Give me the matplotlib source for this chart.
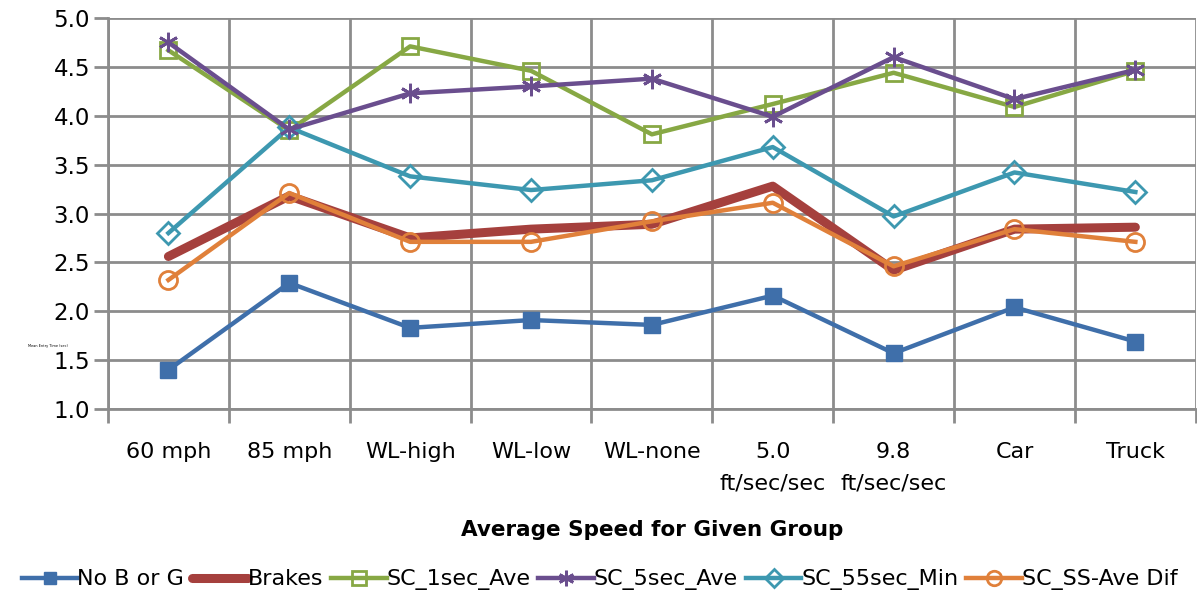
import numpy as np
import matplotlib
matplotlib.use('agg')
import matplotlib.pyplot as plt
from matplotlib.ticker import MultipleLocator, FixedLocator

categories = ['60 mph', '85 mph', 'WL-high', 'WL-low', 'WL-none',
              '5.0\nft/sec/sec', '9.8\nft/sec/sec', 'Car', 'Truck']

no_b_or_g = [1.40, 2.29, 1.83, 1.91, 1.86, 2.16, 1.57, 2.04, 1.69]
brakes = [2.56, 3.18, 2.75, 2.84, 2.89, 3.28, 2.42, 2.84, 2.86]
sc_1sec_ave = [4.67, 3.85, 4.71, 4.46, 3.81, 4.12, 4.44, 4.09, 4.46]
sc_5sec_ave = [4.75, 3.86, 4.23, 4.30, 4.38, 3.99, 4.60, 4.17, 4.47]
sc_55sec_min = [2.80, 3.88, 3.38, 3.24, 3.34, 3.68, 2.97, 3.42, 3.22]
sc_ss_ave_dif = [2.32, 3.21, 2.71, 2.71, 2.92, 3.11, 2.46, 2.84, 2.71]

plt.rcParams['font.family'] = ['DejaVu Sans']

fig = plt.figure(figsize=(11.97, 6.01), dpi=100)
ax = fig.add_axes([0.0902, 0.3195, 0.9088, 0.6505])

x = np.arange(len(categories))

ax.plot(x, no_b_or_g, color='#3F6FAA', lw=3.2, marker='s', ms=11,
        mfc='#3F6FAA', mec='#3F6FAA', label='No B or G', zorder=3)
ax.plot(x, brakes, color='#A5403D', lw=6.5, solid_capstyle='round',
        label='Brakes', zorder=3)
ax.plot(x, sc_1sec_ave, color='#87A844', lw=3.2, marker='s', ms=12,
        mfc='none', mec='#87A844', mew=2, label='SC_1sec_Ave', zorder=3)
ax.plot(x, sc_5sec_ave, color='#6A4E8E', lw=3.2, marker=(6, 2, 0), ms=14,
        mec='#6A4E8E', mew=2, label='SC_5sec_Ave', zorder=4)
ax.plot(x, sc_55sec_min, color='#3D98B0', lw=3.2, marker='D', ms=11,
        mfc='none', mec='#3D98B0', mew=2, label='SC_55sec_Min', zorder=3)
ax.plot(x, sc_ss_ave_dif, color='#E0803A', lw=3.2, marker='o', ms=13,
        mfc='none', mec='#E0803A', mew=2, label='SC_SS-Ave Dif', zorder=3)

ax.set_xlim(-0.5, len(categories) - 0.5)
ax.set_ylim(1.0, 5.0)
ax.yaxis.set_major_locator(MultipleLocator(0.5))
ax.yaxis.set_major_formatter(matplotlib.ticker.FormatStrFormatter('%.1f'))
ax.set_xticks(x)
ax.set_xticklabels(categories, linespacing=1.7)
ax.xaxis.set_minor_locator(FixedLocator(np.arange(-0.5, len(categories), 1.0)))

ax.grid(True, axis='y', which='major', color='#8C8C8C', lw=2)
ax.grid(True, axis='x', which='minor', color='#8C8C8C', lw=2)
ax.tick_params(axis='x', which='major', length=0, labelsize=16, pad=24)
ax.tick_params(axis='x', which='minor', length=10, width=2, color='#8C8C8C', direction='out')
ax.tick_params(axis='y', length=10, width=2, color='#8C8C8C', labelsize=16.5, pad=3)
for name, s in ax.spines.items():
    if name in ('left', 'bottom'):
        s.set_color('#8C8C8C')
        s.set_linewidth(2)
    else:
        s.set_visible(False)
ax.set_axisbelow(True)

ax.set_xlabel('Average Speed for Given Group', fontsize=15.5, fontweight='bold', labelpad=19)
fig.text(0.023, 0.425, 'Mean Entry Time (sec)', fontsize=2.5, ha='left', va='center')

ax.legend(loc='center', bbox_to_anchor=(0.452, -0.437), ncol=6, frameon=False,
          fontsize=16, handlelength=2.5, handletextpad=0.0, columnspacing=0.35,
          markerscale=0.8, borderaxespad=0)

fig.savefig('out.png', dpi=100)
